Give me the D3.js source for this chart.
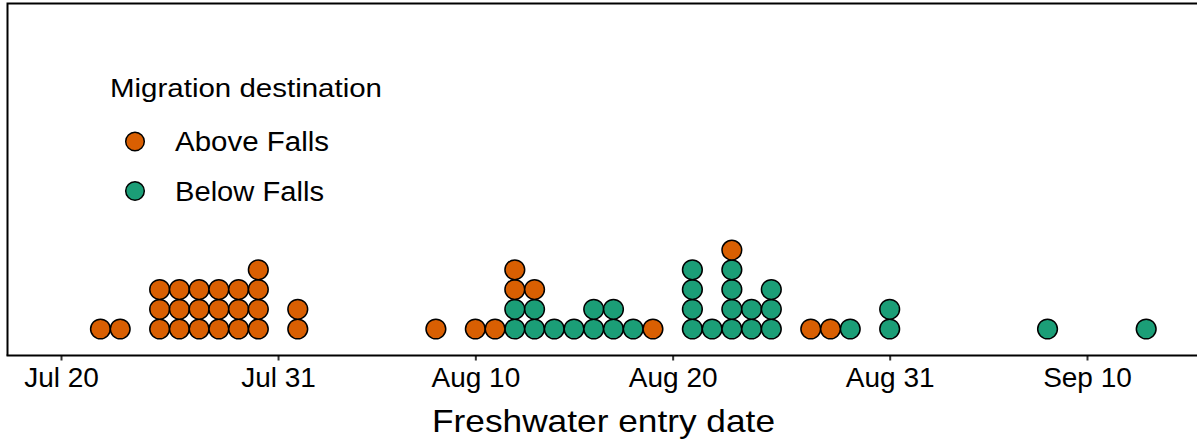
<!DOCTYPE html>
<html>
<head>
<meta charset="utf-8">
<script src="https://cdn.jsdelivr.net/npm/d3@7"></script>
<style>
  html, body { margin: 0; padding: 0; background: #fff; }
  svg { display: block; font-family: "Liberation Sans", Arial, sans-serif; }
</style>
</head>
<body>
<svg id="chart" width="1197" height="440"></svg>
<script>
// ---- data ----
const year = 2019;
const groups = ["Below Falls", "Above Falls"]; // stacking order: bottom first
const legendOrder = ["Above Falls", "Below Falls"];
const groupColors = ["#1B9E77", "#D95F02"];

const belowDates = ["08-12","08-13","08-14","08-15","08-16","08-17","08-18","08-21","08-22","08-23","08-24","08-25","08-29","08-31","09-08","09-13"];
const belowCounts = [2,2,1,1,2,2,1,4,1,4,2,3,1,2,1,1];

const aboveDates = ["07-22","07-23","07-25","07-26","07-27","07-28","07-29","07-30","08-01","08-08","08-10","08-11","08-12","08-13","08-19","08-23","08-27","08-28"];
const aboveCounts = [1,1,3,3,3,3,3,4,2,1,1,1,2,1,1,1,1,1];

const tickDates = ["07-20","07-31","08-10","08-20","08-31","09-10"];
const tickLabels = ["Jul 20","Jul 31","Aug 10","Aug 20","Aug 31","Sep 10"];

const legendTitle = "Migration destination";
const xTitle = "Freshwater entry date";

// ---- helpers ----
const parse = s => d3.utcParse("%Y-%m-%d")(year + "-" + s);

const svg = d3.select("#chart");

const x = d3.scaleUtc()
  .domain([parse("07-20"), parse("09-10")])
  .range([61, 1087]);

const dayPx = x(parse("07-21")) - x(parse("07-20"));
const r = dayPx / 2;

// y: stack position (0 = bottom row)
const y = d3.scaleLinear().domain([0, 1]).range([329, 329 - dayPx]);

// build stacked dots
const stackHeight = new Map();
const dots = [];
const seriesDates = { "Below Falls": belowDates, "Above Falls": aboveDates };
const seriesCounts = { "Below Falls": belowCounts, "Above Falls": aboveCounts };
groups.forEach((g, gi) => {
  seriesDates[g].forEach((ds, i) => {
    const d = parse(ds);
    const key = +d;
    for (let k = 0; k < seriesCounts[g][i]; k++) {
      const h = stackHeight.get(key) || 0;
      dots.push({ date: d, pos: h, group: g, color: groupColors[gi] });
      stackHeight.set(key, h + 1);
    }
  });
});

// panel border (left + top), right edge extends past the image
const panelLeft = 7.5, panelTop = 3.5, panelRight = 1199.5, axisY = 355.5;
svg.append("path")
  .attr("d", `M${panelRight},${panelTop}H${panelLeft}V${axisY}`)
  .attr("fill", "none").attr("stroke", "#000").attr("stroke-width", 2);

// dots
svg.append("g").selectAll("circle")
  .data(dots)
  .join("circle")
  .attr("cx", d => x(d.date))
  .attr("cy", d => y(d.pos))
  .attr("r", r)
  .attr("fill", d => d.color)
  .attr("stroke", "#000")
  .attr("stroke-width", 1.5);

// x axis
const xAxis = d3.axisBottom(x)
  .tickValues(tickDates.map(parse))
  .tickFormat((d, i) => tickLabels[i])
  .tickSize(5)
  .tickPadding(7);

const gx = svg.append("g")
  .attr("transform", `translate(0,${axisY})`)
  .call(xAxis);
gx.select(".domain").remove();
gx.selectAll(".tick line").attr("stroke", "#333").attr("stroke-width", 2);
gx.selectAll(".tick text")
  .attr("fill", "#000")
  .attr("font-size", 28)
  .attr("font-family", "Liberation Sans, Arial, sans-serif");

svg.append("line")
  .attr("x1", panelLeft - 1).attr("x2", panelRight)
  .attr("y1", axisY).attr("y2", axisY)
  .attr("stroke", "#000").attr("stroke-width", 2);

// axis title
svg.append("text")
  .attr("x", (432 + 775) / 2)
  .attr("y", 431.5)
  .attr("text-anchor", "middle")
  .attr("font-size", 32)
  .attr("textLength", 343)
  .attr("lengthAdjust", "spacingAndGlyphs")
  .attr("fill", "#000")
  .text(xTitle);

// legend
const legend = svg.append("g");
legend.append("text")
  .attr("x", 110).attr("y", 97)
  .attr("font-size", 26)
  .attr("textLength", 272)
  .attr("lengthAdjust", "spacingAndGlyphs")
  .attr("fill", "#000")
  .text(legendTitle);

const legendY = d3.scalePoint().domain(legendOrder).range([141.5, 191]);
const legendLen = { "Above Falls": 154, "Below Falls": 149 };
legendOrder.forEach(g => {
  const gi = groups.indexOf(g);
  legend.append("circle")
    .attr("cx", 135).attr("cy", legendY(g)).attr("r", 9.3)
    .attr("fill", groupColors[gi]).attr("stroke", "#000").attr("stroke-width", 1.5);
  legend.append("text")
    .attr("x", 175).attr("y", legendY(g) + 9.5)
    .attr("font-size", 27)
    .attr("textLength", legendLen[g])
    .attr("lengthAdjust", "spacingAndGlyphs")
    .attr("fill", "#000")
    .text(g);
});
</script>
</body>
</html>
